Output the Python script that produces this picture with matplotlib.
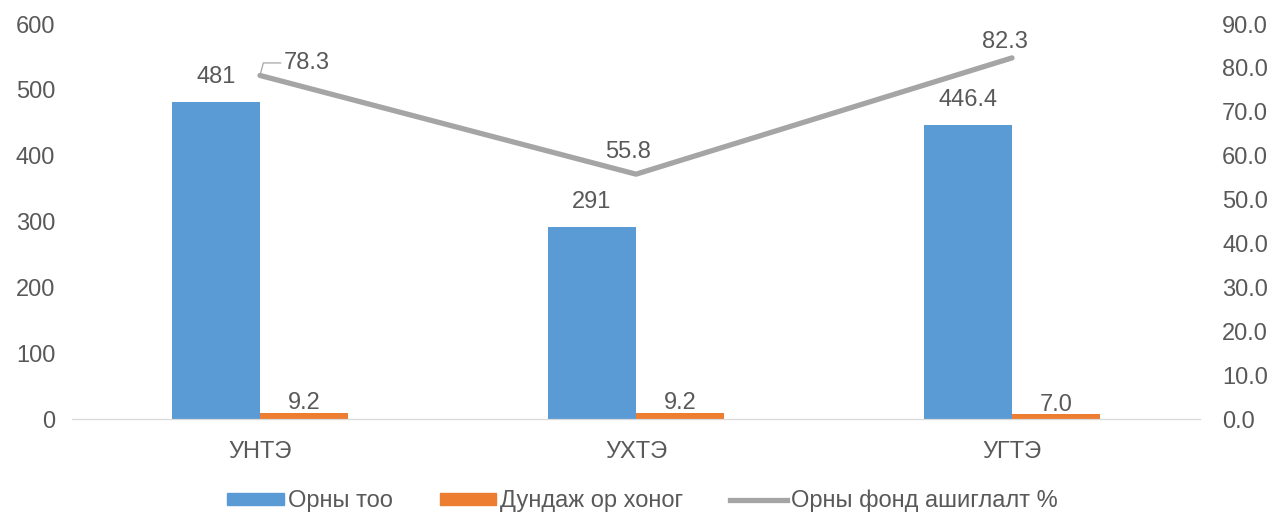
import numpy as np
import matplotlib.pyplot as plt
from matplotlib.lines import Line2D
from matplotlib.patches import Patch

categories = ['УНТЭ', 'УХТЭ', 'УГТЭ']
beds = [481, 291, 446.4]
bed_labels = ['481', '291', '446.4']
avg_days = [9.2, 9.2, 7.0]
usage_pct = [78.3, 55.8, 82.3]

blue = '#5B9BD5'
orange = '#ED7D31'
gray = '#A5A5A5'
txt = '#595959'
fs = 17

plt.rcParams['font.family'] = ['Liberation Sans', 'DejaVu Sans']

fig = plt.figure(figsize=(12.72, 5.13), dpi=100)
ax = fig.add_axes([0.0566, 0.1832, 0.8868, 0.7698])
ax2 = ax.twinx()

x = np.arange(len(categories))
w = 0.235
ax.bar(x - w / 2, beds, w, color=blue)
ax.bar(x + w / 2, avg_days, w, color=orange)

ax.set_xlim(-0.5, 2.5)
ax.set_ylim(0, 600)
ax.set_yticks(range(0, 601, 100))
ax2.set_ylim(0, 90)
ax2.set_yticks(np.arange(0, 91, 10))
ax2.set_yticklabels([f'{v:.1f}' for v in np.arange(0, 91, 10)])

ax2.plot(x, usage_pct, color=gray, lw=3.8, solid_capstyle='round')

for a in (ax, ax2):
    for s in ['top', 'left', 'right']:
        a.spines[s].set_visible(False)
    a.spines['bottom'].set_color('#D9D9D9')
    a.tick_params(length=0, labelsize=fs, labelcolor=txt)
ax.tick_params(axis='y', pad=12)
ax2.tick_params(axis='y', pad=16)
ax.tick_params(axis='x', pad=16)
ax.set_xticks(x)
ax.set_xticklabels(categories)

# bar labels
for xi, v, lab in zip(x, beds, bed_labels):
    ax.annotate(lab, (xi - w / 2, v), xytext=(0, 18), textcoords='offset points',
                ha='center', va='center', fontsize=fs, color=txt)
for xi, v in zip(x, avg_days):
    ax.annotate(f'{v:.1f}', (xi + w / 2, v), xytext=(0, 7), textcoords='offset points',
                ha='center', va='center', fontsize=fs, color=txt)

# line labels
ax2.annotate(f'{usage_pct[0]:.1f}', (x[0], usage_pct[0]), xytext=(17, 9),
             textcoords='offset points', ha='left', va='center', fontsize=fs, color=txt,
             arrowprops=dict(arrowstyle='-', color='#A6A6A6', lw=0.9,
                             shrinkA=0, shrinkB=0,
                             connectionstyle='angle,angleA=0,angleB=75,rad=0'))
line_offsets = [(-6, 16), (-5, 11.5)]
for xi, v, off in zip(x[1:], usage_pct[1:], line_offsets):
    ax2.annotate(f'{v:.1f}', (xi, v), xytext=off, textcoords='offset points',
                 ha='center', va='center', fontsize=fs, color=txt)

handles = [Patch(color=blue), Patch(color=orange), Line2D([], [], color=gray, lw=3.8)]
labels = ['Орны тоо', 'Дундаж ор хоног', 'Орны фонд ашиглалт %']
fig.legend(handles, labels, loc='lower center', bbox_to_anchor=(0.505, -0.04), ncol=3,
           frameon=False, fontsize=fs, labelcolor=txt, handlelength=2.4, handleheight=0.42,
           handletextpad=0.15, columnspacing=2.0)

fig.savefig('out.png', dpi=100)
